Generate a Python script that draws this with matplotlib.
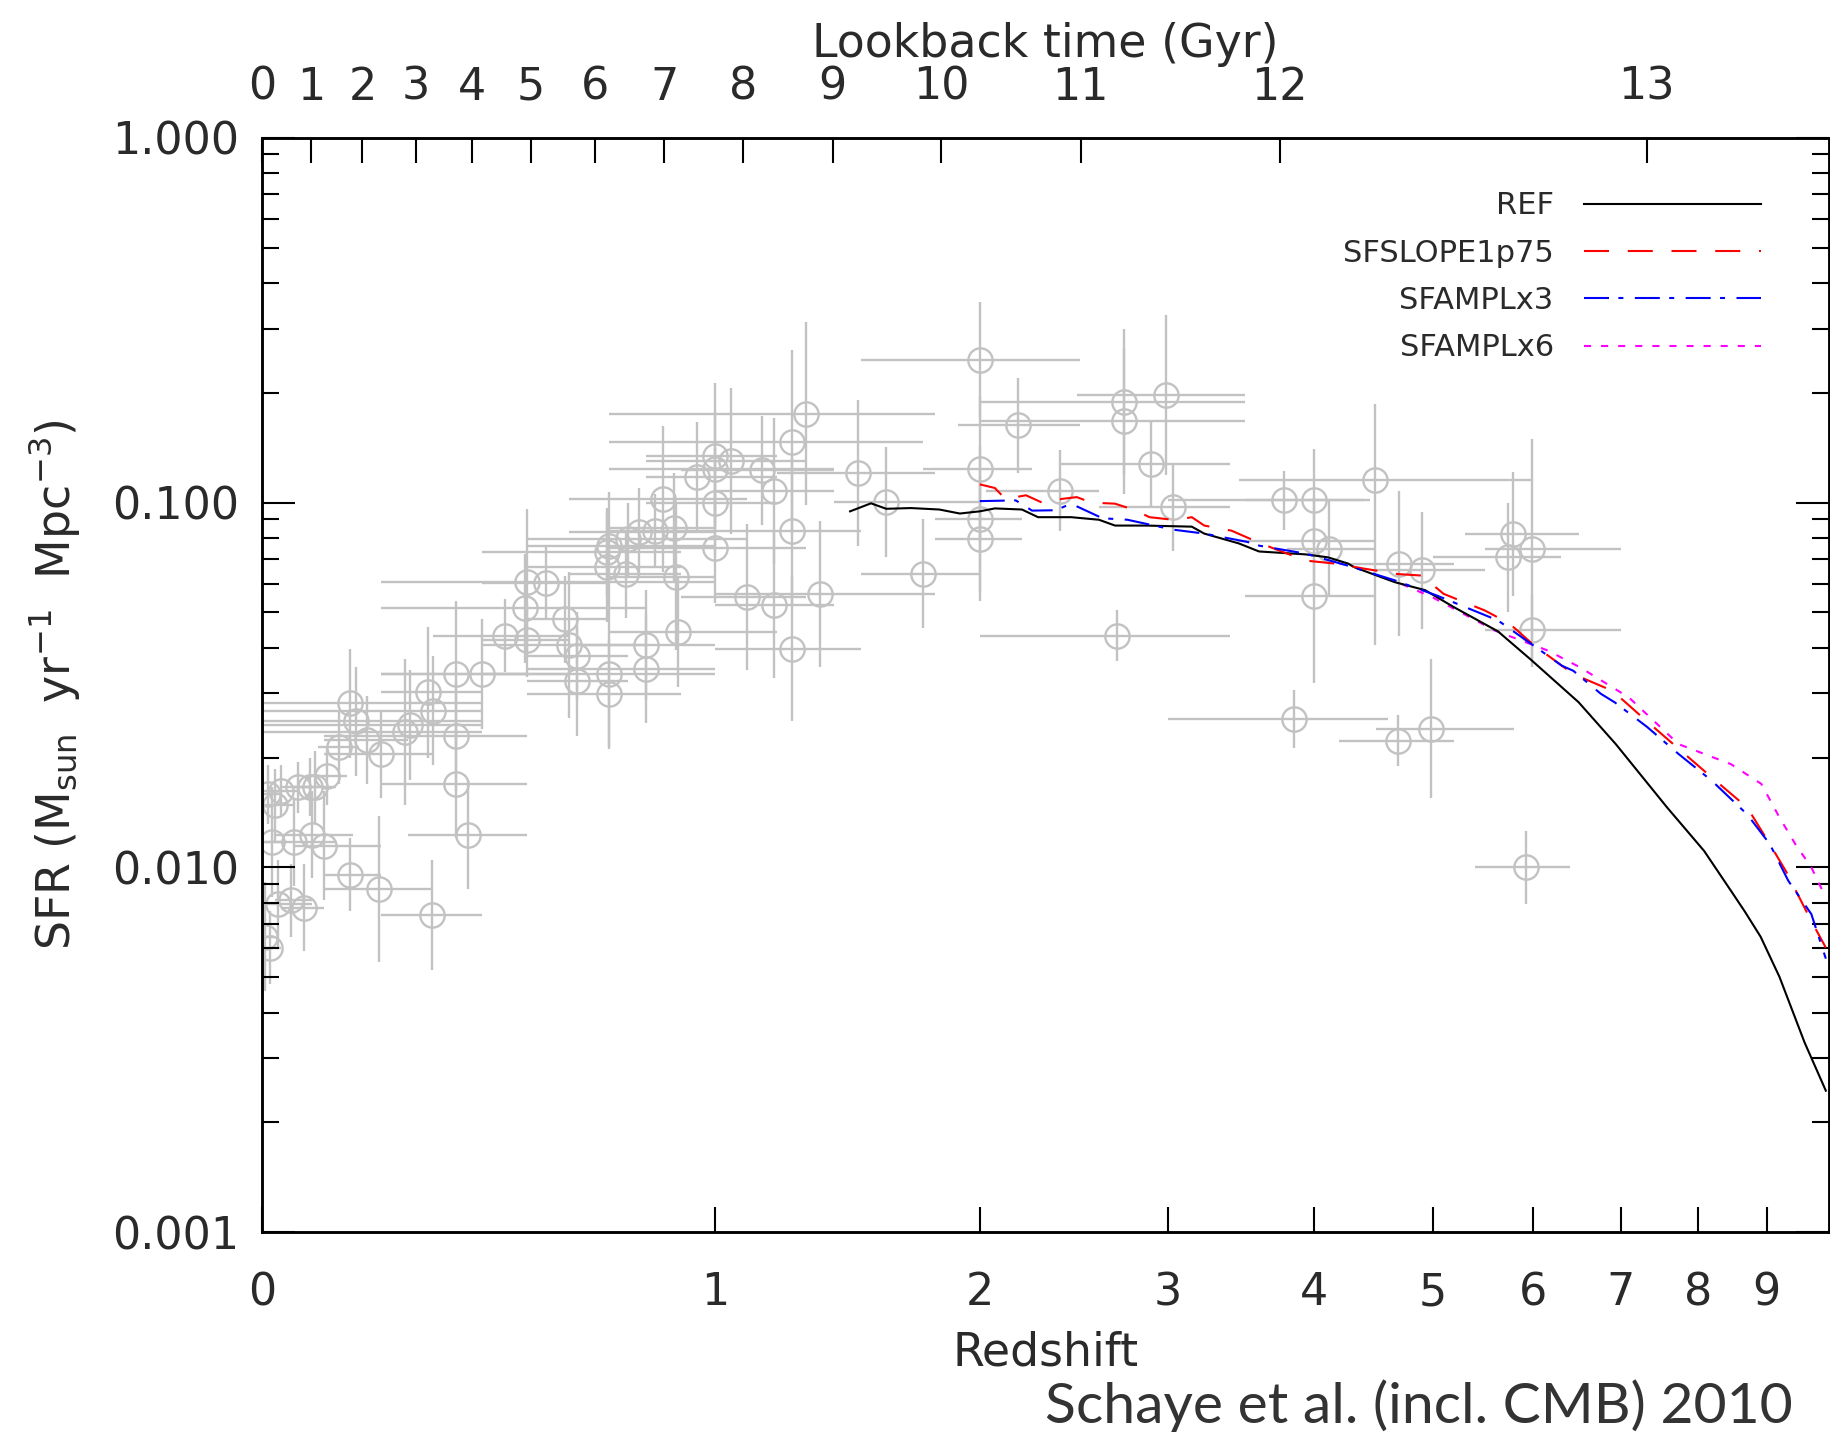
import numpy as np
import matplotlib.pyplot as plt
from matplotlib.ticker import FixedLocator, FixedFormatter, LogLocator, NullFormatter, NullLocator

# observational compilation (grey points): redshift, bin edges, log10 SFR density, errors in dex
obs_z = [0.01, 0.02, 0.03, 0.015, 0.025, 0.005, 0.012, 0.057, 0.076, 0.085,
         0.105, 0.125, 0.145, 0.155, 0.175, 0.20, 0.245, 0.255, 0.29, 0.30,
         0.345, 0.40, 0.345, 0.345, 0.37, 0.05, 0.08, 0.10, 0.145, 0.197,
         0.297, 0.066, 0.045, 0.45, 0.50, 0.495, 0.50, 0.545, 0.59, 0.60,
         0.62, 0.62, 0.70, 0.70, 0.695, 0.695, 0.70, 0.745, 0.75, 0.78,
         0.826, 0.80, 0.80, 0.848, 0.88, 0.885, 0.89, 0.945, 1.0, 1.0,
         1.0, 1.0, 1.05, 1.10, 1.15, 1.19, 1.19, 1.25, 1.25, 1.25,
         1.30, 1.35, 1.49, 1.60, 1.75, 2.0, 2.0, 2.0, 2.0, 2.18,
         2.39, 2.74, 2.74, 2.99, 2.90, 3.03, 2.70, 3.78, 4.0, 4.0,
         4.0, 4.12, 4.49, 4.7, 4.9, 5.78, 5.73, 5.98, 5.98, 3.85,
         4.69, 4.98, 5.92]
obs_zlo = [0.0, 0.0, 0.0, 0.0, 0.0, 0.0, 0.0, 0.03, 0.05, 0.05,
           0.07, 0.09, 0.0, 0.0, 0.10, 0.10, 0.0, 0.0, 0.20, 0.0,
           0.20, 0.20, 0.10, 0.20, 0.25, 0.0, 0.02, 0.05, 0.10, 0.10,
           0.20, 0.03, 0.02, 0.30, 0.40, 0.20, 0.20, 0.40, 0.50, 0.40,
           0.50, 0.50, 0.40, 0.50, 0.50, 0.40, 0.50, 0.60, 0.50, 0.60,
           0.70, 0.60, 0.50, 0.60, 0.70, 0.70, 0.70, 0.80, 0.80, 0.70,
           0.80, 0.70, 0.80, 0.90, 0.90, 1.00, 1.00, 0.70, 1.00, 1.00,
           0.70, 1.00, 1.20, 1.40, 1.50, 1.50, 1.75, 1.80, 1.80, 1.90,
           2.03, 2.0, 2.0, 2.48, 2.39, 2.60, 2.0, 3.0, 3.5, 3.45,
           3.5, 3.8, 3.46, 4.2, 4.5, 5.3, 5.0, 5.5, 5.5, 3.0,
           4.2, 4.5, 5.4]
obs_zhi = [0.03, 0.05, 0.06, 0.04, 0.08, 0.02, 0.03, 0.08, 0.10, 0.12,
           0.14, 0.16, 0.40, 0.40, 0.25, 0.30, 0.40, 0.40, 0.40, 0.40,
           0.50, 0.60, 0.50, 0.50, 0.50, 0.12, 0.15, 0.20, 0.20, 0.30,
           0.40, 0.10, 0.08, 0.60, 0.60, 0.80, 1.00, 0.70, 0.70, 0.80,
           0.75, 0.75, 1.00, 0.90, 0.90, 0.90, 1.00, 0.90, 1.10, 1.00,
           1.00, 1.00, 1.00, 1.10, 1.00, 1.00, 1.20, 1.20, 1.20, 1.40,
           1.20, 1.30, 1.30, 1.30, 1.40, 1.40, 1.40, 1.75, 1.50, 1.50,
           1.80, 1.80, 1.80, 2.00, 2.00, 2.50, 2.25, 2.20, 2.20, 2.50,
           2.60, 3.50, 3.50, 3.50, 3.40, 3.40, 3.40, 4.40, 4.45, 4.5,
           4.5, 4.5, 5.98, 5.2, 5.5, 6.5, 6.3, 7.0, 7.0, 4.6,
           5.2, 5.8, 6.4]
obs_logsfr = [-1.80, -1.83, -1.79, -1.93, -2.10, -2.19, -2.22, -1.78, -1.78, -1.78,
              -1.75, -1.67, -1.55, -1.60, -1.65, -1.69, -1.63, -1.61, -1.52, -1.57,
              -1.47, -1.47, -1.64, -1.77, -1.91, -1.93, -1.91, -1.94, -2.02, -2.06,
              -2.13, -2.11, -2.09, -1.365, -1.378, -1.29, -1.218, -1.22, -1.32, -1.39,
              -1.42, -1.49, -1.47, -1.525, -1.177, -1.135, -1.12, -1.195, -1.10, -1.08,
              -1.077, -1.39, -1.455, -0.989, -1.07, -1.205, -1.356, -0.929, -0.871, -0.907,
              -1.0, -1.125, -0.885, -1.26, -0.912, -0.967, -1.28, -0.833, -1.077, -1.40,
              -0.756, -1.25, -0.92, -0.998, -1.195, -0.609, -0.907, -1.045, -1.10, -0.788,
              -0.967, -0.724, -0.776, -0.705, -0.893, -1.013, -1.365, -0.994, -0.994, -1.104,
              -1.255, -1.127, -0.939, -1.167, -1.186, -1.085, -1.15, -1.127, -1.35, -1.593,
              -1.653, -1.62, -2.0]
obs_elo = [0.08, 0.10, 0.07, 0.15, 0.12, 0.15, 0.10, 0.07, 0.08, 0.10,
           0.08, 0.10, 0.15, 0.15, 0.12, 0.12, 0.20, 0.15, 0.18, 0.15,
           0.20, 0.15, 0.15, 0.15, 0.15, 0.12, 0.12, 0.15, 0.10, 0.20,
           0.15, 0.12, 0.10, 0.10, 0.10, 0.15, 0.20, 0.10, 0.12, 0.20,
           0.12, 0.15, 0.20, 0.15, 0.15, 0.12, 0.15, 0.12, 0.10, 0.12,
           0.10, 0.15, 0.15, 0.20, 0.15, 0.20, 0.15, 0.15, 0.20, 0.15,
           0.15, 0.15, 0.20, 0.20, 0.15, 0.20, 0.20, 0.25, 0.20, 0.20,
           0.25, 0.20, 0.20, 0.15, 0.15, 0.16, 0.20, 0.20, 0.17, 0.13,
           0.11, 0.20, 0.20, 0.22, 0.12, 0.12, 0.07, 0.08, 0.12, 0.12,
           0.24, 0.13, 0.45, 0.20, 0.16, 0.17, 0.15, 0.30, 0.10, 0.08,
           0.07, 0.19, 0.10]
obs_ehi = [0.08, 0.10, 0.07, 0.15, 0.12, 0.15, 0.10, 0.07, 0.08, 0.10,
           0.08, 0.10, 0.15, 0.15, 0.12, 0.12, 0.20, 0.15, 0.18, 0.15,
           0.20, 0.15, 0.15, 0.15, 0.15, 0.12, 0.12, 0.15, 0.10, 0.20,
           0.15, 0.12, 0.10, 0.10, 0.10, 0.15, 0.20, 0.10, 0.12, 0.20,
           0.12, 0.15, 0.20, 0.15, 0.15, 0.12, 0.15, 0.12, 0.10, 0.12,
           0.10, 0.15, 0.15, 0.20, 0.15, 0.20, 0.15, 0.15, 0.20, 0.15,
           0.15, 0.15, 0.20, 0.20, 0.15, 0.20, 0.20, 0.25, 0.20, 0.20,
           0.25, 0.20, 0.20, 0.15, 0.15, 0.16, 0.20, 0.20, 0.17, 0.13,
           0.11, 0.20, 0.20, 0.22, 0.12, 0.12, 0.07, 0.08, 0.14, 0.12,
           0.10, 0.13, 0.21, 0.20, 0.16, 0.17, 0.15, 0.30, 0.10, 0.08,
           0.07, 0.19, 0.10]

# simulations, log10 SFR density vs redshift
ref_z = [1.46, 1.54, 1.60, 1.70, 1.82, 1.91, 2.0, 2.07, 2.2, 2.28, 2.45, 2.6, 2.69,
         2.87, 3.15, 3.23, 3.46, 3.6, 3.94, 4.11, 4.27, 4.32, 4.66, 4.93, 5.2, 5.63,
         5.97, 6.5, 6.94, 7.59, 8.09, 8.47, 8.67, 8.91, 9.2, 9.6, 9.95]
ref_logsfr = [-1.024, -1.002, -1.017, -1.015, -1.019, -1.03, -1.024, -1.016, -1.019,
              -1.04, -1.04, -1.047, -1.063, -1.063, -1.066, -1.085, -1.112, -1.134,
              -1.142, -1.15, -1.167, -1.177, -1.218, -1.24, -1.287, -1.353, -1.43,
              -1.547, -1.662, -1.836, -1.955, -2.064, -2.12, -2.19, -2.30, -2.48, -2.612]
slope_z = [2.0, 2.07, 2.12, 2.22, 2.3, 2.4, 2.48, 2.56, 2.69, 2.8, 2.89, 3.05, 3.15,
           3.23, 3.41, 3.6, 3.74, 3.94, 4.19, 4.4, 4.69, 4.9, 5.1, 5.5, 5.75, 6.0,
           6.44, 6.9, 7.33, 7.67, 8.2, 8.71, 9.05, 9.3, 9.71, 9.95]
slope_logsfr = [-0.95, -0.96, -0.99, -0.98, -1.0, -0.99, -0.985, -1.0, -1.003, -1.02,
                -1.04, -1.048, -1.04, -1.063, -1.077, -1.11, -1.131, -1.159, -1.168,
                -1.181, -1.196, -1.2, -1.25, -1.296, -1.332, -1.39, -1.47, -1.516,
                -1.6, -1.662, -1.754, -1.836, -1.936, -2.01, -2.147, -2.22]
x3_z = [2.0, 2.17, 2.25, 2.37, 2.45, 2.62, 2.76, 3.03, 3.23, 3.52, 3.6, 3.94, 4.27,
        4.66, 5.04, 5.63, 6.03, 6.31, 6.44, 6.76, 6.93, 7.33, 7.74, 8.2, 8.71, 9.05,
        9.34, 9.71, 9.95]
x3_logsfr = [-0.996, -0.994, -1.022, -1.021, -1.003, -1.043, -1.047, -1.074, -1.085,
             -1.108, -1.118, -1.14, -1.173, -1.213, -1.255, -1.323, -1.397, -1.447,
             -1.461, -1.524, -1.548, -1.615, -1.689, -1.763, -1.855, -1.936, -2.037,
             -2.128, -2.25]
x6_z = [4.72, 5.0, 5.6, 6.16, 6.52, 7.1, 7.74, 8.47, 8.92, 9.2, 9.45, 9.71, 9.95]
x6_logsfr = [-1.223, -1.26, -1.351, -1.406, -1.452, -1.534, -1.662, -1.717, -1.771,
             -1.863, -1.936, -2.0, -2.083]

z_ticks = [0, 1, 2, 3, 4, 5, 6, 7, 8, 9]
lookback_ticks = [0, 1, 2, 3, 4, 5, 6, 7, 8, 9, 10, 11, 12, 13]

# flat LCDM (WMAP3-like) for the lookback-time axis
hubble_time = 977.8 / 73.0
om, ol = 0.238, 0.762


def cosmic_age(z):
    return 2 / (3 * np.sqrt(ol)) * hubble_time * np.arcsinh(np.sqrt(ol / om) * (1 + z) ** -1.5)


def z_at_lookback(t):
    t0 = cosmic_age(0.0)
    a = np.sinh((t0 - np.asarray(t, float)) * 3 * np.sqrt(ol) / (2 * hubble_time)) / np.sqrt(ol / om)
    return a ** (-2 / 3) - 1


grey = '#c2c2c2'
txt = '#2a2a2a'

fig = plt.figure(figsize=(18.31, 14.32), dpi=100)
ax = fig.add_axes([0.143, 0.1395, 0.8558, 0.7643])

z = np.array(obs_z)
lsfr = np.array(obs_logsfr)
sfr = 10 ** lsfr
yerr = [sfr - 10 ** (lsfr - np.array(obs_elo)), 10 ** (lsfr + np.array(obs_ehi)) - sfr]
xerr = [z - np.array(obs_zlo), np.array(obs_zhi) - z]
ax.errorbar(1 + z, sfr, xerr=xerr, yerr=yerr, fmt='o', ms=17.5, mfc='none', mec=grey,
            mew=1.7, ecolor=grey, elinewidth=1.7, capsize=0, zorder=1)

ax.plot(1 + np.array(ref_z), 10 ** np.array(ref_logsfr), color='black', lw=1.5, label='REF', zorder=3)
ax.plot(1 + np.array(slope_z), 10 ** np.array(slope_logsfr), color='red', lw=1.5,
        ls=(0, (12, 9)), label='SFSLOPE1p75', zorder=4)
ax.plot(1 + np.array(x3_z), 10 ** np.array(x3_logsfr), color='blue', lw=1.5,
        ls=(0, (12, 4.5, 2.4, 5.5)), label='SFAMPLx3', zorder=5)
ax.plot(1 + np.array(x6_z), 10 ** np.array(x6_logsfr), color='magenta', lw=1.5,
        ls=(0, (3.4, 4.8)), label='SFAMPLx6', zorder=2)

ax.set_xscale('log')
ax.set_yscale('log')
ax.set_xlim(1, 11)
ax.set_ylim(1e-3, 1)

ax.xaxis.set_major_locator(FixedLocator([1 + v for v in z_ticks]))
ax.xaxis.set_major_formatter(FixedFormatter([str(v) for v in z_ticks]))
ax.xaxis.set_minor_locator(NullLocator())
ax.yaxis.set_major_locator(FixedLocator([1e-3, 1e-2, 1e-1, 1.0]))
ax.yaxis.set_major_formatter(FixedFormatter(['0.001', '0.010', '0.100', '1.000']))
ax.yaxis.set_minor_locator(LogLocator(base=10, subs=np.arange(2, 10)))
ax.yaxis.set_minor_formatter(NullFormatter())

ax.tick_params(which='both', direction='in', width=1.5, colors='black', labelcolor=txt, labelsize=32)
ax.tick_params(axis='x', which='major', length=18, pad=28, top=False)
ax.tick_params(axis='y', which='major', length=24, pad=16, right=True)
ax.tick_params(axis='y', which='minor', length=12, right=True)
for s in ax.spines.values():
    s.set_linewidth(1.8)

ax.set_xlabel('Redshift', fontsize=33, color=txt, labelpad=12)
ax.set_ylabel(r'SFR (M$_{\rm sun}$  yr$^{-1}$  Mpc$^{-3}$)', fontsize=33, color=txt, labelpad=22)

top = ax.twiny()
top.set_xscale('log')
top.set_xlim(ax.get_xlim())
top.xaxis.set_major_locator(FixedLocator(1 + z_at_lookback(lookback_ticks)))
top.xaxis.set_major_formatter(FixedFormatter([str(v) for v in lookback_ticks]))
top.xaxis.set_minor_locator(NullLocator())
top.tick_params(axis='x', which='major', direction='in', length=18, width=1.5,
                labelsize=32, labelcolor=txt, pad=21)
top.set_xlabel('Lookback time (Gyr)', fontsize=33, color=txt, labelpad=6)
for s in top.spines.values():
    s.set_linewidth(1.8)

ax.legend(loc='upper right', bbox_to_anchor=(0.957, 0.951), frameon=False, markerfirst=False,
          fontsize=22, handlelength=5.8, handletextpad=1.0, labelspacing=0.6,
          borderpad=0, borderaxespad=0, labelcolor=txt)

fig.text(0.979, 0.0065, 'Schaye et al. (incl. CMB) 2010', ha='right', va='baseline',
         fontsize=41, family=['Lato', 'DejaVu Sans'], fontweight='normal', color='#333333')

fig.savefig('out.png', dpi=100)
